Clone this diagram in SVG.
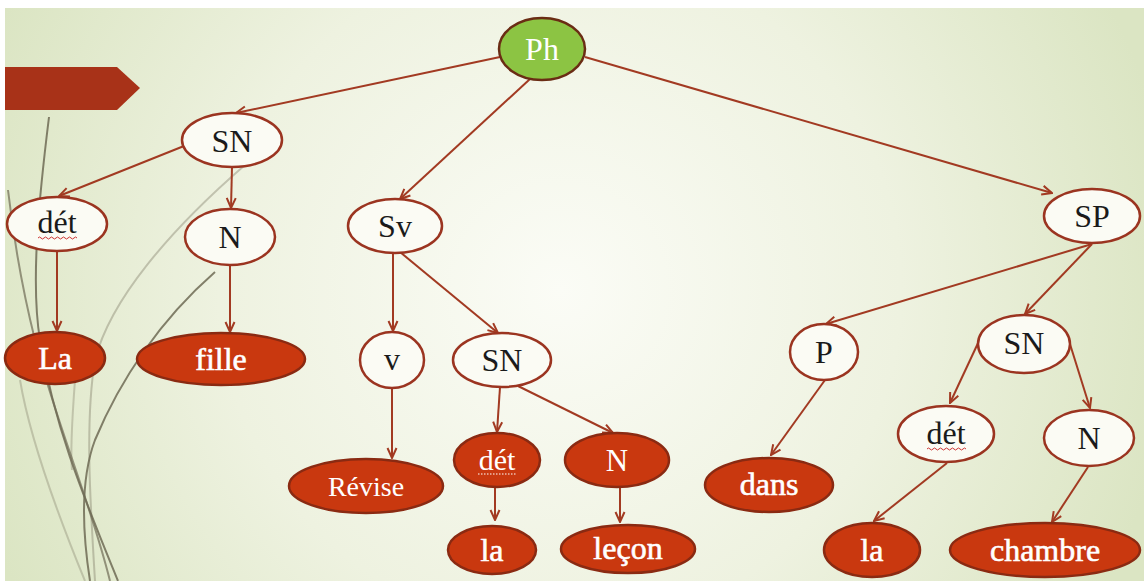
<svg xmlns="http://www.w3.org/2000/svg" width="1144" height="581" viewBox="0 0 1144 581">
<defs>
<radialGradient id="bg" cx="560" cy="290" r="620" gradientUnits="userSpaceOnUse">
<stop offset="0" stop-color="#fbfcf6"/>
<stop offset="0.55" stop-color="#eef2e0"/>
<stop offset="1" stop-color="#dbe5c3"/>
</radialGradient>
<marker id="arr" viewBox="0 0 12 12" refX="11" refY="6" markerWidth="12" markerHeight="12" markerUnits="userSpaceOnUse" orient="auto">
<path d="M1,1.5 L11,6 L1,10.5" fill="none" stroke="#a23a22" stroke-width="2" stroke-linejoin="miter"/>
</marker>
<style>
.w{fill:#fbfbf4;stroke:#9b3420;stroke-width:2.5}
.r{fill:#c9380f;stroke:#8a2a12;stroke-width:2.5}
.g{fill:#8cc443;stroke:#6a2c14;stroke-width:2.5}
.tb{font-family:"Liberation Serif",serif;font-size:32px;fill:#1a1a1a;text-anchor:middle}
.tw{font-family:"Liberation Serif",serif;font-size:32px;fill:#ffffff;stroke:#ffffff;stroke-width:0.6;text-anchor:middle}
.tr{font-family:"Liberation Serif",serif;font-size:28px;fill:#ffffff;text-anchor:middle}
.e{stroke:#a23a22;stroke-width:2;fill:none;marker-end:url(#arr)}
.deco{fill:none;stroke:#6f6b55;stroke-width:2}
.squig{fill:none;stroke:#cc3333;stroke-width:1}
</style>
</defs>
<rect x="0" y="0" width="1144" height="581" fill="#ffffff"/>
<rect x="5" y="8" width="1139" height="573" fill="url(#bg)"/>
<g id="decoration">
<path d="M5,67 L117,67 L140,88 L117,110 L5,110 Z" fill="#a83218"/>
<path class="deco" d="M49,117 C40,190 30,280 40,340 C55,430 85,500 118,581" opacity="0.85"/>
<path class="deco" d="M8,190 C15,250 25,300 35,340 C55,420 90,500 110,581" opacity="0.7"/>
<path class="deco" d="M245,165 C170,230 110,300 95,360 C85,420 90,500 95,581" opacity="0.35" stroke-width="1.5"/>
<path class="deco" d="M215,272 C160,320 120,380 95,440 C80,480 82,530 90,581" opacity="0.85"/>
<path class="deco" d="M20,380 C30,440 60,520 85,581" opacity="0.3" stroke-width="3"/>
<path class="deco" d="M75,380 C72,420 70,450 72,470" opacity="0.3" stroke-width="3"/>
</g>
<g id="connectors">
<line class="e" x1="500" y1="57" x2="236" y2="113"/>
<line class="e" x1="530" y1="79" x2="400" y2="199"/>
<line class="e" x1="585" y1="57" x2="1052" y2="193"/>
<line class="e" x1="184" y1="146" x2="59" y2="196"/>
<line class="e" x1="232" y1="167" x2="231" y2="208"/>
<line class="e" x1="57" y1="251" x2="57" y2="331"/>
<line class="e" x1="230" y1="265" x2="230" y2="332"/>
<line class="e" x1="393" y1="253" x2="393" y2="331"/>
<line class="e" x1="400" y1="252" x2="498" y2="333"/>
<line class="e" x1="392" y1="388" x2="392" y2="458"/>
<line class="e" x1="500" y1="387" x2="497" y2="432"/>
<line class="e" x1="518" y1="386" x2="613" y2="433"/>
<line class="e" x1="495" y1="487" x2="495" y2="520"/>
<line class="e" x1="620" y1="488" x2="620" y2="522"/>
<line class="e" x1="1092" y1="244" x2="826" y2="324"/>
<line class="e" x1="1092" y1="244" x2="1025" y2="314"/>
<line class="e" x1="979" y1="341" x2="950" y2="403"/>
<line class="e" x1="1069" y1="341" x2="1090" y2="408"/>
<line class="e" x1="825" y1="380" x2="771" y2="455"/>
<line class="e" x1="947" y1="463" x2="874" y2="521"/>
<line class="e" x1="1088" y1="467" x2="1052" y2="522"/>
</g>
<g id="n-Ph"><ellipse class="g" cx="542" cy="49" rx="43" ry="31"/><text class="tb" x="542" y="60" style="fill:#ffffff">Ph</text></g>
<g id="n-SN1"><ellipse class="w" cx="232" cy="140" rx="50" ry="27"/><text class="tb" x="232" y="152">SN</text></g>
<g id="n-det1"><ellipse class="w" cx="57" cy="224" rx="50" ry="27"/><text class="tb" x="57" y="233">dét</text><path class="squig" d="M38,238 q1.5,-2 3,0 t3,0 t3,0 t3,0 t3,0 t3,0 t3,0 t3,0 t3,0 t3,0 t3,0 t3,0 t3,0"/></g>
<g id="n-N1"><ellipse class="w" cx="230" cy="237" rx="45" ry="28"/><text class="tb" x="230" y="248">N</text></g>
<g id="n-La"><ellipse class="r" cx="55" cy="358" rx="50" ry="26"/><text class="tw" x="55" y="369">La</text></g>
<g id="n-fille"><ellipse class="r" cx="221" cy="359" rx="84" ry="26"/><text class="tw" x="221" y="370">fille</text></g>
<g id="n-Sv"><ellipse class="w" cx="395" cy="226" rx="47" ry="27"/><text class="tb" x="395" y="237">Sv</text></g>
<g id="n-v"><ellipse class="w" cx="392" cy="360" rx="32" ry="28"/><text class="tb" x="392" y="370">v</text></g>
<g id="n-SN2"><ellipse class="w" cx="502" cy="360" rx="49" ry="27"/><text class="tb" x="502" y="371">SN</text></g>
<g id="n-Revise"><ellipse class="r" cx="366" cy="486" rx="77" ry="27"/><text class="tr" x="366" y="496">Révise</text></g>
<g id="n-det2"><ellipse class="r" cx="497" cy="460" rx="43" ry="27"/><text class="tr" x="497" y="470" style="font-size:30px">dét</text><line x1="478" y1="474" x2="516" y2="474" stroke="#ffffff" stroke-width="1" stroke-dasharray="1.5,1.5"/></g>
<g id="n-N2"><ellipse class="r" cx="617" cy="460" rx="52" ry="27"/><text class="tr" x="617" y="471" style="font-size:31px">N</text></g>
<g id="n-la2"><ellipse class="r" cx="492" cy="550" rx="44" ry="24"/><text class="tw" x="492" y="561">la</text></g>
<g id="n-lecon"><ellipse class="r" cx="628" cy="549" rx="67" ry="24"/><text class="tw" x="628" y="559">leçon</text></g>
<g id="n-SP"><ellipse class="w" cx="1092" cy="216" rx="48" ry="27"/><text class="tb" x="1092" y="227">SP</text></g>
<g id="n-P"><ellipse class="w" cx="824" cy="352" rx="34" ry="28"/><text class="tb" x="824" y="363">P</text></g>
<g id="n-SN3"><ellipse class="w" cx="1024" cy="344" rx="46" ry="29"/><text class="tb" x="1024" y="354">SN</text></g>
<g id="n-det3"><ellipse class="w" cx="946" cy="434" rx="48" ry="28"/><text class="tb" x="946" y="444">dét</text><path class="squig" d="M927,449 q1.5,-2 3,0 t3,0 t3,0 t3,0 t3,0 t3,0 t3,0 t3,0 t3,0 t3,0 t3,0 t3,0 t3,0"/></g>
<g id="n-N3"><ellipse class="w" cx="1089" cy="438" rx="45" ry="28"/><text class="tb" x="1089" y="449">N</text></g>
<g id="n-dans"><ellipse class="r" cx="769" cy="485" rx="64" ry="27"/><text class="tw" x="769" y="495">dans</text></g>
<g id="n-la3"><ellipse class="r" cx="872" cy="550" rx="48" ry="27"/><text class="tw" x="872" y="561">la</text></g>
<g id="n-chambre"><ellipse class="r" cx="1045" cy="550" rx="95" ry="27"/><text class="tw" x="1045" y="561">chambre</text></g>
</svg>
